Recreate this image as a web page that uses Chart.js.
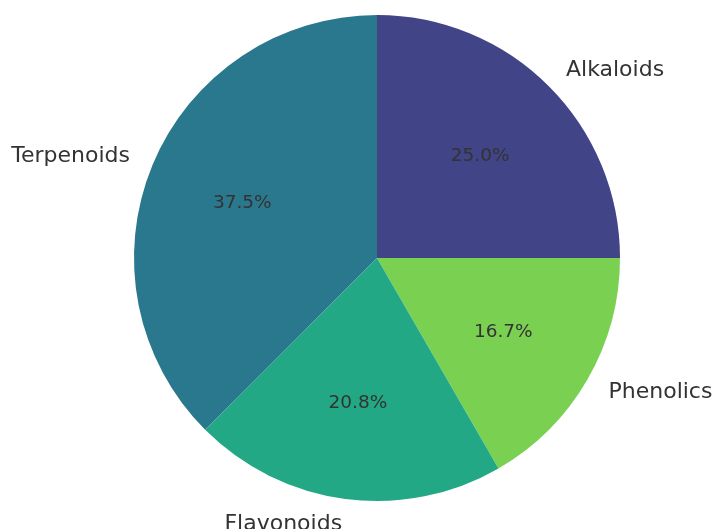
<!DOCTYPE html>
<html>
<head>
<meta charset="utf-8">
<script src="https://cdn.jsdelivr.net/npm/chart.js@4/dist/chart.umd.min.js"></script>
<style>
    html, body { margin: 0; padding: 0; background: #fff; }
    #wrap { width: 712px; height: 529px; }
</style>
</head>
<body>
<div id="wrap"><canvas id="pie"></canvas></div>
<script>
let labels = ['Alkaloids', 'Phenolics', 'Flavonoids', 'Terpenoids']
let counts = [6, 4, 5, 9]
let colors = ['#414487', '#7ad151', '#22a884', '#2a788e']

// draws the outer names and the percentages, like matplotlib autopct
const pieText = {
    id: 'pieText',
    afterDatasetsDraw(chart) {
        let ctx = chart.ctx
        let meta = chart.getDatasetMeta(0)
        let total = counts.reduce((a, b) => a + b, 0)
        ctx.save()
        ctx.fillStyle = '#333333'
        ctx.textBaseline = 'middle'
        for (let i = 0; i < meta.data.length; i++) {
            let arc = meta.data[i]
            let mid = (arc.startAngle + arc.endAngle) / 2
            let r = arc.outerRadius
            let cx = Math.cos(mid), cy = Math.sin(mid)

            ctx.font = '22px "DejaVu Sans"'
            ctx.textAlign = cx > 0 ? 'left' : 'right'
            ctx.fillText(labels[i], arc.x + cx * r * 1.1, arc.y + cy * r * 1.1 + 1)

            ctx.font = '18.5px "DejaVu Sans"'
            ctx.textAlign = 'center'
            let pct = (counts[i] / total * 100).toFixed(1) + '%'
            ctx.fillText(pct, arc.x + cx * r * 0.6, arc.y + cy * r * 0.6 + 1)
        }
        ctx.restore()
    }
}

let pie = new Chart(document.getElementById('pie').getContext('2d'), {
    type: 'pie',
    data: {
        labels,
        datasets: [{
            data: counts,
            backgroundColor: colors,
            borderWidth: 0
        }]
    },
    options: {
        responsive: true,
        maintainAspectRatio: false,
        animation: false,
        layout: { padding: { top: 15, bottom: 28, left: 134, right: 92 } },
        plugins: {
            legend: { display: false },
            tooltip: { enabled: false }
        }
    },
    plugins: [pieText]
})
</script>
</body>
</html>
